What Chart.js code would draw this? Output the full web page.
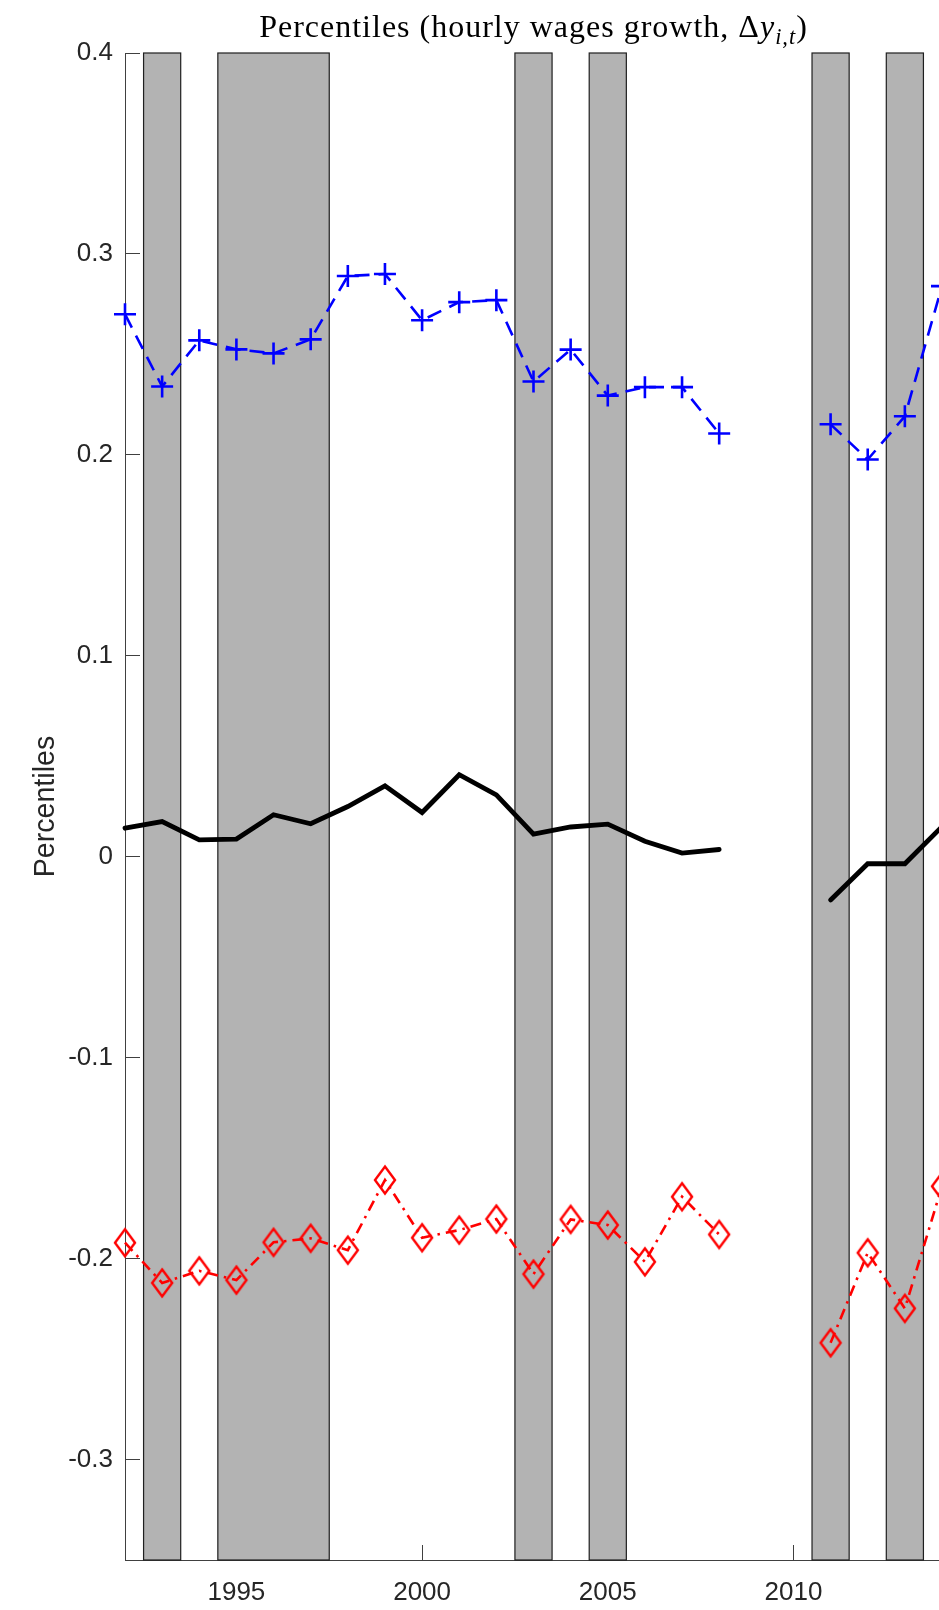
<!DOCTYPE html>
<html><head><meta charset="utf-8">
<script src="https://cdn.jsdelivr.net/npm/chart.js@4.4.0/dist/chart.umd.min.js"></script>
<style>
html,body{margin:0;padding:0;background:#fff;overflow:hidden;width:939px;height:1610px;}
#wrap{position:relative;width:939px;height:1610px;overflow:hidden;background:#fff;}
#c{position:absolute;left:0;top:0;}
#title{position:absolute;left:125px;width:817px;top:8px;text-align:center;font-family:'Liberation Serif','Times New Roman',serif;font-size:32px;letter-spacing:1px;line-height:36px;color:#000;white-space:nowrap;}
#title sub{font-size:70%;line-height:0;}
</style></head><body>
<div id="wrap"><canvas id="c" width="960" height="1610"></canvas>
<div id="title">Percentiles (hourly wages growth, Δ<i>y</i><sub><i>i,t</i></sub>)</div></div>
<script>
// ---- data ----
const years = [1992,1993,1994,1995,1996,1997,1998,1999,2000,2001,2002,2003,2004,2005,2006,2007,2008,2009,2010,2011,2012,2013,2014];
const p90 = [0.270,0.234,0.257,0.2525,0.2505,0.2575,0.289,0.290,0.267,0.276,0.277,0.2365,0.2524,0.2295,0.2337,0.2337,0.2106,null,null,0.2152,0.1977,0.2192,0.284];
const p50 = [0.0142,0.0175,0.0084,0.0088,0.0209,0.0164,0.025,0.0353,0.022,0.0408,0.0308,0.0113,0.0148,0.0162,0.0077,0.0018,0.0036,null,null,-0.0215,-0.0035,-0.0035,0.015];
const p10 = [-0.1921,-0.2121,-0.2061,-0.2107,-0.1919,-0.1899,-0.1958,-0.1609,-0.1896,-0.1858,-0.1803,-0.2077,-0.1805,-0.1833,-0.2016,-0.1692,-0.188,null,null,-0.2419,-0.1971,-0.2248,-0.164];
const recessionStart = [1992.5,1994.5,2002.5,2004.5,2010.5,2012.5];
const recessionEnd   = [1993.5,1997.5,2003.5,2005.5,2011.5,2013.5];
const xTicks = [1995,2000,2005,2010];
const yTicks = [-0.3,-0.2,-0.1,0,0.1,0.2,0.3,0.4];
const yTickLabels = ['-0.3','-0.2','-0.1','0','0.1','0.2','0.3','0.4'];
const xMin = 1992, xMax = 2014, yMin = -0.35, yMax = 0.4;
const yLabel = 'Percentiles';

// ---- helpers ----
const pts = arr => years.map((yr,i)=>({x:yr, y:arr[i]}));

const diamond = document.createElement('canvas');
diamond.width = 28; diamond.height = 34;
(function(){
  const g = diamond.getContext('2d');
  g.strokeStyle = '#ff0000'; g.lineWidth = 2.4;
  g.beginPath();
  g.moveTo(14,3.5); g.lineTo(24,17); g.lineTo(14,30.5); g.lineTo(4,17); g.closePath();
  g.stroke();
})();

const bandsPlugin = {
  id:'bands',
  beforeDatasetsDraw(chart){
    const {ctx, scales:{x,y}} = chart;
    ctx.save();
    const y0 = y.getPixelForValue(yMax), y1 = y.getPixelForValue(yMin);
    recessionStart.forEach((a,i)=>{
      const x0 = x.getPixelForValue(a), x1 = x.getPixelForValue(recessionEnd[i]);
      ctx.fillStyle = '#b3b3b3';
      ctx.fillRect(x0, y0, x1-x0, y1-y0);
      ctx.strokeStyle = '#1f1f1f'; ctx.lineWidth = 1.2;
      ctx.strokeRect(x0, y0, x1-x0, y1-y0);
    });
    ctx.restore();
  }
};

const tickFont = {family:"'Liberation Sans', Arial, sans-serif", size:26};

new Chart(document.getElementById('c'), {
  type:'line',
  data:{
    datasets:[
      {data:pts(p90), borderColor:'#0000ff', borderWidth:2.6, borderDash:[15,9], spanGaps:false,
       pointStyle:'cross', pointRadius:11, pointBorderColor:'#0000ff', pointBorderWidth:2.6, clip:false, tension:0},
      {data:pts(p50), borderColor:'#000000', borderWidth:4.8, spanGaps:false, pointRadius:0,
       borderCapStyle:'round', clip:false, tension:0},
      {data:pts(p10), borderColor:'#ff0000', borderWidth:2.6, borderDash:[11,6,2.5,6], spanGaps:false,
       pointStyle:diamond, pointRadius:12, clip:false, tension:0}
    ]
  },
  options:{
    responsive:false, animation:false, devicePixelRatio:1,
    layout:{padding:{left:0,right:18,top:53,bottom:0}},
    plugins:{legend:{display:false}, tooltip:{enabled:false}, title:{display:false}},
    scales:{
      x:{type:'linear', min:xMin, max:xMax,
        afterBuildTicks(s){ s.ticks = xTicks.map(v=>({value:v})); },
        afterFit(s){ s.height = 50; },
        ticks:{font:tickFont, color:'#262626', padding:32, maxRotation:0, autoSkip:false,
          callback:v=>String(v)},
        grid:{drawOnChartArea:false, drawTicks:true, tickLength:-15, color:'#404040', lineWidth:1},
        border:{display:true, color:'#404040', width:1}
      },
      y:{type:'linear', min:yMin, max:yMax,
        afterBuildTicks(s){ s.ticks = yTicks.map(v=>({value:v})); },
        afterFit(s){ s.width = 125; },
        ticks:{font:tickFont, color:'#262626', padding:27, autoSkip:false,
          callback:(v)=>{ const i = yTicks.findIndex(t=>Math.abs(t-v)<1e-9); return i>=0 ? yTickLabels[i] : ''; }},
        grid:{drawOnChartArea:false, drawTicks:true, tickLength:-15, color:'#404040', lineWidth:1},
        border:{display:true, color:'#404040', width:1},
        title:{display:true, text:yLabel, color:'#262626',
          font:{family:"'Liberation Sans', Arial, sans-serif", size:28.6}, padding:{top:29,bottom:0}}
      }
    }
  },
  plugins:[bandsPlugin]
});
</script>
</body></html>
